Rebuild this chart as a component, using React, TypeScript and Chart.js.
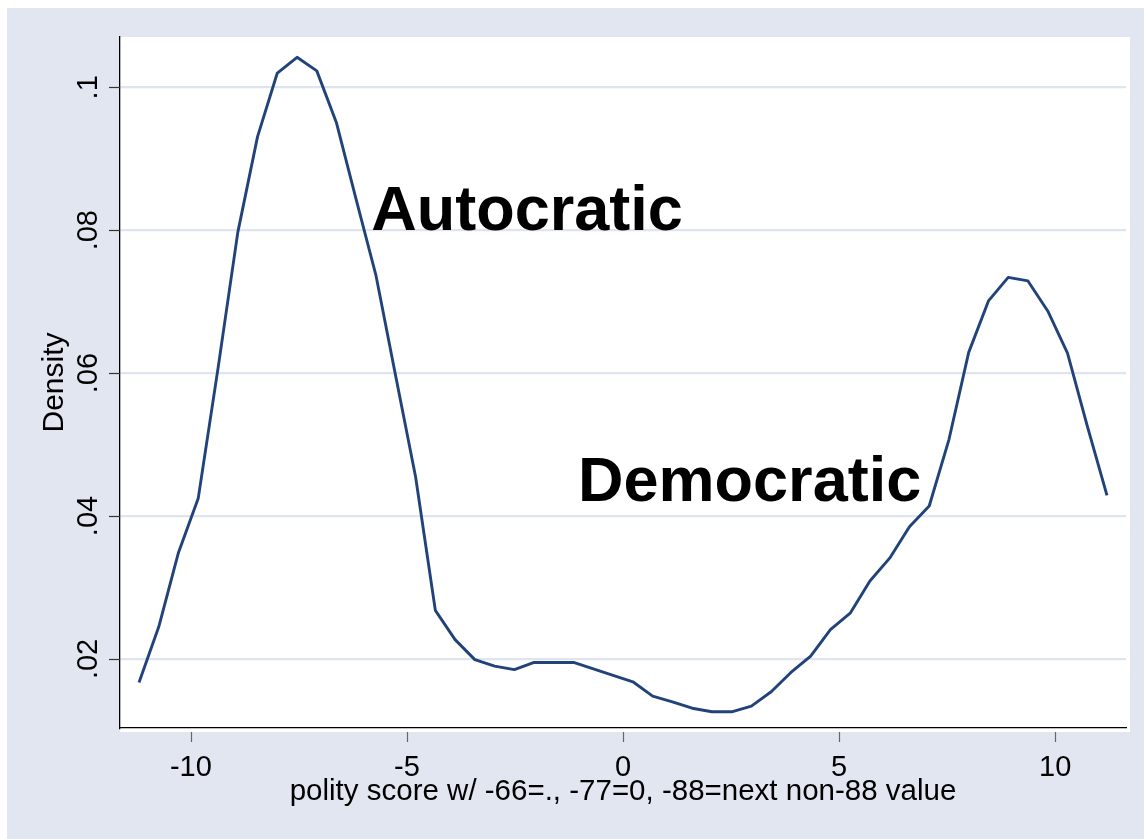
import { useEffect, useRef } from "react";
import { Chart, registerables } from "chart.js";

Chart.register(...registerables);

// Kernel density of the polity score, evaluated on a 50-point grid
const polityGrid = [
  -11.2, -10.743, -10.286, -9.829, -9.371, -8.914, -8.457, -8.0, -7.543, -7.086,
  -6.629, -6.171, -5.714, -5.257, -4.8, -4.343, -3.886, -3.429, -2.971, -2.514,
  -2.057, -1.6, -1.143, -0.686, -0.229, 0.229, 0.686, 1.143, 1.6, 2.057,
  2.514, 2.971, 3.429, 3.886, 4.343, 4.8, 5.257, 5.714, 6.171, 6.629,
  7.086, 7.543, 8.0, 8.457, 8.914, 9.371, 9.829, 10.286, 10.743, 11.2,
];

const density = [
  0.0167, 0.0245, 0.0349, 0.0425, 0.0607, 0.0797, 0.0931, 0.102, 0.1042, 0.1023,
  0.095, 0.0842, 0.0736, 0.0595, 0.0455, 0.0268, 0.0227, 0.0199, 0.019, 0.0185,
  0.0195, 0.0195, 0.0195, 0.0186, 0.0177, 0.0168, 0.0148, 0.014, 0.0131, 0.0126,
  0.0126, 0.0134, 0.0154, 0.0181, 0.0204, 0.0241, 0.0264, 0.0309, 0.0341, 0.0385,
  0.0414, 0.0507, 0.0629, 0.0701, 0.0734, 0.0729, 0.0687, 0.0628, 0.0526, 0.0429,
];

const xTickValues = [-10, -5, 0, 5, 10];
const xTickLabels = ["-10", "-5", "0", "5", "10"];
const yTickValues = [0.02, 0.04, 0.06, 0.08, 0.1];
const yTickLabels = [".02", ".04", ".06", ".08", ".1"];

const xTitle = "polity score w/ -66=., -77=0, -88=next non-88 value";
const yTitle = "Density";

// Regime labels, anchored in data units (centre of the text)
const regimeLabels = ["Autocratic", "Democratic"];
const regimeX = [-2.22, 2.93];
const regimeY = [0.0825, 0.0445];

const OUTER_BG = "#e1e6f0";
const GRID = "#dfe4ef";
const LINE = "#22437a";
const FONT = '"Liberation Sans", Arial, Helvetica, sans-serif';

const stataFrame = {
  id: "stataFrame",
  beforeDraw(chart: any) {
    const { ctx, chartArea: a, width, height } = chart;
    ctx.save();
    ctx.fillStyle = OUTER_BG;
    ctx.fillRect(0, 0, width, height);
    ctx.fillStyle = "#ffffff";
    ctx.fillRect(a.left, a.top, a.right - a.left + 4, a.bottom - a.top + 4);
    ctx.restore();
  },
  afterDraw(chart: any) {
    const { ctx, chartArea: a } = chart;
    const x = chart.scales.x;
    const y = chart.scales.y;
    ctx.save();

    // tick marks
    ctx.lineWidth = 1.2;
    ctx.strokeStyle = "#333";
    yTickValues.forEach((v) => {
      const py = Math.round(y.getPixelForValue(v)) + 0.5;
      ctx.beginPath();
      ctx.moveTo(a.left - 11, py);
      ctx.lineTo(a.left, py);
      ctx.stroke();
    });
    ctx.strokeStyle = "#666";
    xTickValues.forEach((v) => {
      const px = Math.round(x.getPixelForValue(v)) + 0.5;
      ctx.beginPath();
      ctx.moveTo(px, a.bottom + 4);
      ctx.lineTo(px, a.bottom + 14);
      ctx.stroke();
    });

    // tick labels
    ctx.fillStyle = "#000";
    ctx.font = `29px ${FONT}`;
    ctx.textAlign = "center";
    ctx.textBaseline = "alphabetic";
    yTickValues.forEach((v, i) => {
      const py = y.getPixelForValue(v);
      ctx.save();
      ctx.translate(a.left - 23, py);
      ctx.rotate(-Math.PI / 2);
      ctx.fillText(yTickLabels[i], 0, 0);
      ctx.restore();
    });
    xTickValues.forEach((v, i) => {
      ctx.fillText(xTickLabels[i], x.getPixelForValue(v), a.bottom + 48);
    });

    // axis titles
    ctx.font = `29.5px ${FONT}`;
    ctx.fillText(xTitle, (a.left + a.right) / 2, a.bottom + 72);
    ctx.font = `30px ${FONT}`;
    ctx.save();
    ctx.translate(a.left - 57, (a.top + a.bottom) / 2);
    ctx.rotate(-Math.PI / 2);
    ctx.fillText(yTitle, 0, 0);
    ctx.restore();

    // regime annotations
    ctx.font = `bold 63px ${FONT}`;
    ctx.textBaseline = "middle";
    regimeLabels.forEach((t, i) => {
      ctx.fillText(t, x.getPixelForValue(regimeX[i]), y.getPixelForValue(regimeY[i]));
    });

    ctx.restore();
  },
};

export default function App() {
  const canvasRef = useRef<HTMLCanvasElement | null>(null);

  useEffect(() => {
    if (!canvasRef.current) return;
    const chart = new Chart(canvasRef.current, {
      type: "line",
      data: {
        datasets: [
          {
            data: polityGrid.map((p, i) => ({ x: p, y: density[i] })),
            borderColor: LINE,
            borderWidth: 2.9,
            pointRadius: 0,
            tension: 0,
            fill: false,
            borderJoinStyle: "round",
          },
        ],
      },
      options: {
        animation: false,
        responsive: true,
        maintainAspectRatio: false,
        layout: { padding: { top: 29, right: 18, left: 0, bottom: 0 } },
        plugins: { legend: { display: false }, tooltip: { enabled: false } },
        scales: {
          x: {
            type: "linear",
            min: -11.64,
            max: 11.64,
            afterBuildTicks: (s: any) => {
              s.ticks = xTickValues.map((v) => ({ value: v }));
            },
            afterFit: (s: any) => {
              s.height = 111;
            },
            grid: { display: false },
            ticks: { display: false },
            border: { display: true, color: "#000", width: 1.3 },
          },
          y: {
            type: "linear",
            min: 0.01033,
            max: 0.10704,
            afterBuildTicks: (s: any) => {
              s.ticks = yTickValues.map((v) => ({ value: v }));
            },
            afterFit: (s: any) => {
              s.width = 113;
            },
            grid: { color: GRID, lineWidth: 2.2, drawTicks: false },
            ticks: { display: false },
            border: { display: true, color: "#000", width: 1.3 },
          },
        },
      },
      plugins: [stataFrame],
    });
    return () => chart.destroy();
  }, []);

  return (
    <div style={{ position: "fixed", left: 7, top: 8, width: 1137, height: 831 }}>
      <canvas ref={canvasRef} />
    </div>
  );
}
